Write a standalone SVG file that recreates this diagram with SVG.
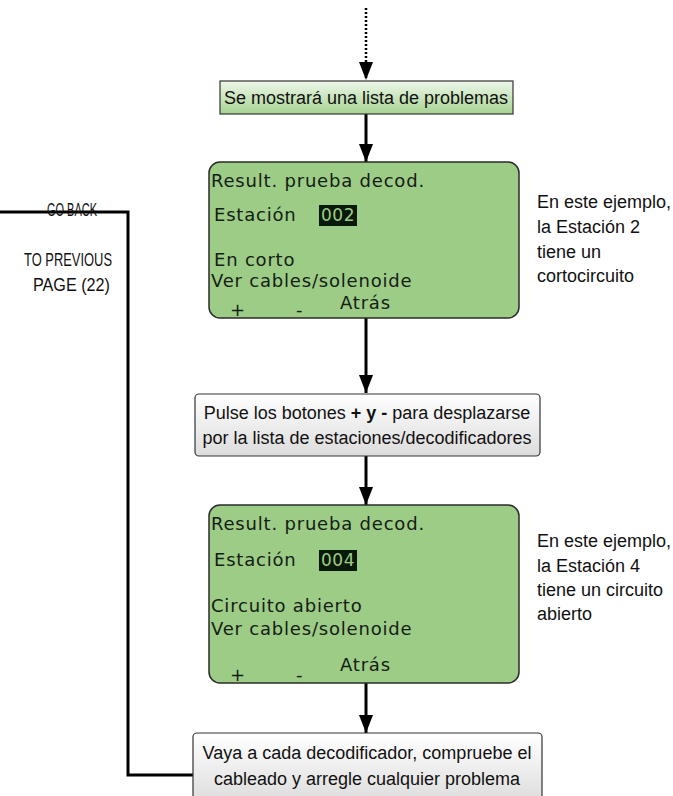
<svg xmlns="http://www.w3.org/2000/svg" width="673" height="796" viewBox="0 0 673 796">
<defs>
<linearGradient id="gGreen" x1="0" y1="0" x2="0" y2="1"><stop offset="0" stop-color="#eef7e9"/><stop offset="1" stop-color="#a6d392"/></linearGradient>
<linearGradient id="gGrey" x1="0" y1="0" x2="0" y2="1"><stop offset="0" stop-color="#ffffff"/><stop offset="1" stop-color="#dcdcdc"/></linearGradient>
<marker id="arr" markerWidth="18" markerHeight="14" refX="18" refY="7" orient="auto" markerUnits="userSpaceOnUse" viewBox="0 0 18 14"><path d="M0,0 L18,7 L0,14 Z" fill="#000"/></marker>
<style>
.c{fill:none;stroke:#000;stroke-width:3}
.lcd{fill:#9dcc87;stroke:#2b2b2b;stroke-width:1.5}
.lt{font-family:"DejaVu Sans",sans-serif;font-size:18px;letter-spacing:0.8px;fill:#142014}
.hl{font-family:"DejaVu Sans",sans-serif;font-size:17px;letter-spacing:0.5px;fill:#9dcc87}
.t{font-family:"Liberation Sans",sans-serif;font-size:18px;fill:#111}
.g{font-family:"Liberation Sans",sans-serif;font-size:19px;fill:#111}
.tb{font-weight:bold}
.box{stroke:#333;stroke-width:1.2}
</style>
</defs>
<g id="connectors">
<line x1="366" y1="8" x2="366" y2="80" stroke="#000" stroke-width="2.5" stroke-dasharray="2,2" marker-end="url(#arr)"/>
<line class="c" x1="366" y1="114" x2="366" y2="162" marker-end="url(#arr)"/>
<line class="c" x1="366" y1="318" x2="366" y2="393" marker-end="url(#arr)"/>
<line class="c" x1="366" y1="456" x2="366" y2="505" marker-end="url(#arr)"/>
<line class="c" x1="366" y1="683" x2="366" y2="733" marker-end="url(#arr)"/>
<polyline class="c" points="0,212 128,212 128,775 193,775"/>
</g>
<g id="goback">
<text class="g" x="47" y="216" textLength="50" lengthAdjust="spacingAndGlyphs">GO BACK</text>
<text class="g" x="24" y="266" textLength="88" lengthAdjust="spacingAndGlyphs">TO PREVIOUS</text>
<text class="g" x="33" y="291" textLength="77" lengthAdjust="spacingAndGlyphs">PAGE (22)</text>
</g>
<g id="box1">
<rect class="box" x="220" y="81" width="293" height="33" fill="url(#gGreen)"/>
<text class="t" x="366" y="104" text-anchor="middle">Se mostrará una lista de problemas</text>
</g>
<g id="lcd1">
<rect class="lcd" x="209" y="162" width="310" height="156" rx="11"/>
<text class="lt" x="211" y="187">Result. prueba decod.</text>
<text class="lt" x="214" y="221">Estación</text>
<rect x="319" y="205" width="38" height="21" fill="#0a1a0a"/>
<text class="hl" x="321" y="221">002</text>
<text class="lt" x="214" y="266">En corto</text>
<text class="lt" x="211" y="287">Ver cables/solenoide</text>
<text class="lt" x="230" y="316">+</text>
<text class="lt" x="296" y="316">-</text>
<text class="lt" x="340" y="309">Atrás</text>
</g>
<g id="note1">
<text class="t" x="537" y="208">En este ejemplo,</text>
<text class="t" x="537" y="233">la Estación 2</text>
<text class="t" x="537" y="258">tiene un</text>
<text class="t" x="537" y="282">cortocircuito</text>
</g>
<g id="box2">
<rect class="box" x="195" y="394" width="345" height="62" rx="4" fill="url(#gGrey)"/>
<text class="t" x="367" y="419" text-anchor="middle">Pulse los botones <tspan class="tb">+ y -</tspan> para desplazarse</text>
<text class="t" x="367" y="444" text-anchor="middle">por la lista de estaciones/decodificadores</text>
</g>
<g id="lcd2">
<rect class="lcd" x="209" y="505" width="310" height="178" rx="11"/>
<text class="lt" x="211" y="530">Result. prueba decod.</text>
<text class="lt" x="214" y="566">Estación</text>
<rect x="319" y="550" width="38" height="21" fill="#0a1a0a"/>
<text class="hl" x="321" y="566">004</text>
<text class="lt" x="211" y="612">Circuito abierto</text>
<text class="lt" x="211" y="635">Ver cables/solenoide</text>
<text class="lt" x="230" y="681">+</text>
<text class="lt" x="296" y="681">-</text>
<text class="lt" x="340" y="671">Atrás</text>
</g>
<g id="note2">
<text class="t" x="537" y="547">En este ejemplo,</text>
<text class="t" x="537" y="572">la Estación 4</text>
<text class="t" x="537" y="596">tiene un circuito</text>
<text class="t" x="537" y="620">abierto</text>
</g>
<g id="box3">
<rect class="box" x="193" y="733" width="349" height="70" rx="4" fill="url(#gGrey)"/>
<text class="t" x="367" y="759" text-anchor="middle">Vaya a cada decodificador, compruebe el</text>
<text class="t" x="367" y="785" text-anchor="middle">cableado y arregle cualquier problema</text>
</g>
</svg>
